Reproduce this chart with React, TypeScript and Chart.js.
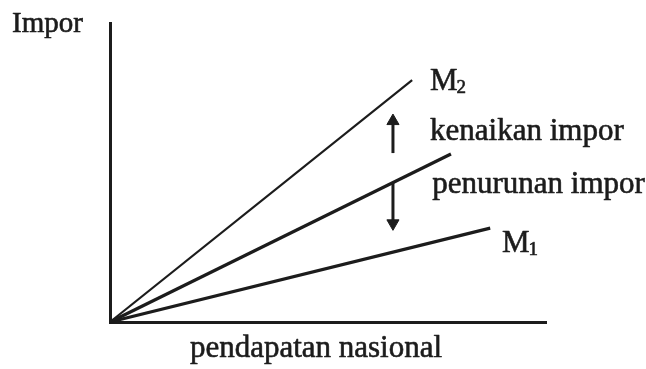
import React, { useEffect, useRef } from "react";
import { Chart, registerables } from "chart.js";

Chart.register(...registerables);

// Import function lines from the origin (national income, imports)
const originPoint = { x: 0, y: 0 };
const m2End = { x: 69.3, y: 80.9 };
const midEnd = { x: 78.2, y: 56.2 };
const m1End = { x: 87.2, y: 31.4 };

// Shift arrows
const arrowX = 64.9;
const arrowUpY = [56.5, 67.2];
const arrowDownY = [46.8, 33.0];

// Text labels
const yTitle = "Impor";
const xTitle = "pendapatan nasional";
const lineLabels = ["M", "kenaikan impor", "penurunan impor", "M"];
const lineLabelSubs = ["2", "", "", "1"];
const lineLabelX = [73.4, 73.4, 73.9, 89.9];
const lineLabelY = [77.6, 60.9, 43.1, 23.4];

const FONT = '"Liberation Serif", "DejaVu Serif", serif';
const INK = "#1c1c1c";

function heavyText(ctx: CanvasRenderingContext2D, t: string, x: number, y: number) {
  ctx.fillText(t, x, y);
  ctx.strokeText(t, x, y);
}

const labelPlugin = {
  id: "labels",
  afterDatasetsDraw(chart: any) {
    const { ctx, scales, chartArea } = chart;
    const xs = scales.x;
    const ys = scales.y;
    ctx.save();
    ctx.fillStyle = INK;
    ctx.strokeStyle = INK;
    ctx.lineWidth = 0.6;
    ctx.lineJoin = "round";
    ctx.textBaseline = "alphabetic";
    ctx.textAlign = "left";
    lineLabels.forEach((t, i) => {
      const px = xs.getPixelForValue(lineLabelX[i]);
      const py = ys.getPixelForValue(lineLabelY[i]);
      ctx.font = `31px ${FONT}`;
      heavyText(ctx, t, px, py);
      if (lineLabelSubs[i]) {
        const w = ctx.measureText(t).width;
        ctx.font = `19px ${FONT}`;
        heavyText(ctx, lineLabelSubs[i], px + w - 1, py + 3);
      }
    });
    ctx.font = `29px ${FONT}`;
    heavyText(ctx, yTitle, chartArea.left - 98, chartArea.top + 9);
    ctx.font = `31px ${FONT}`;
    ctx.textAlign = "center";
    heavyText(ctx, xTitle, chartArea.left + 206, chartArea.bottom + 35);
    ctx.restore();
  },
};

export default function App() {
  const ref = useRef<HTMLCanvasElement>(null);
  useEffect(() => {
    if (!ref.current) return;
    const chart = new Chart(ref.current, {
      type: "scatter",
      data: {
        datasets: [
          {
            label: "M2",
            data: [originPoint, m2End],
            showLine: true,
            borderColor: INK,
            borderWidth: 2.2,
            pointRadius: 0,
            clip: false as any,
          },
          {
            label: "M",
            data: [originPoint, midEnd],
            showLine: true,
            borderColor: INK,
            borderWidth: 3.2,
            pointRadius: 0,
            clip: false as any,
          },
          {
            label: "M1",
            data: [originPoint, m1End],
            showLine: true,
            borderColor: INK,
            borderWidth: 3.2,
            pointRadius: 0,
            clip: false as any,
          },
          {
            label: "up",
            data: arrowUpY.map((y) => ({ x: arrowX, y })),
            showLine: true,
            borderColor: INK,
            borderWidth: 3,
            pointStyle: "triangle",
            pointRadius: [0, 7],
            pointBackgroundColor: INK,
            pointBorderColor: INK,
            pointBorderWidth: 1,
            rotation: 0,
            clip: false as any,
          },
          {
            label: "down",
            data: arrowDownY.map((y) => ({ x: arrowX, y })),
            showLine: true,
            borderColor: INK,
            borderWidth: 3,
            pointStyle: "triangle",
            pointRadius: [0, 7],
            pointBackgroundColor: INK,
            pointBorderColor: INK,
            pointBorderWidth: 1,
            rotation: 180,
            clip: false as any,
          },
        ],
      },
      options: {
        responsive: false,
        animation: false,
        layout: { padding: { left: 110, right: 100, top: 23, bottom: 47 } },
        plugins: {
          legend: { display: false },
          tooltip: { enabled: false },
        },
        scales: {
          x: {
            type: "linear",
            min: 0,
            max: 100,
            ticks: { display: false },
            grid: { display: false, drawTicks: false },
            border: { display: true, color: INK, width: 3 },
          },
          y: {
            type: "linear",
            min: 0,
            max: 100,
            ticks: { display: false },
            grid: { display: false, drawTicks: false },
            border: { display: true, color: INK, width: 3 },
          },
        },
      },
      plugins: [labelPlugin],
    });
    return () => chart.destroy();
  }, []);
  return (
    <div style={{ position: "absolute", left: 0, top: 0, width: 646, height: 369, background: "#ffffff" }}>
      <canvas ref={ref} width={646} height={369} style={{ display: "block" }} />
    </div>
  );
}
